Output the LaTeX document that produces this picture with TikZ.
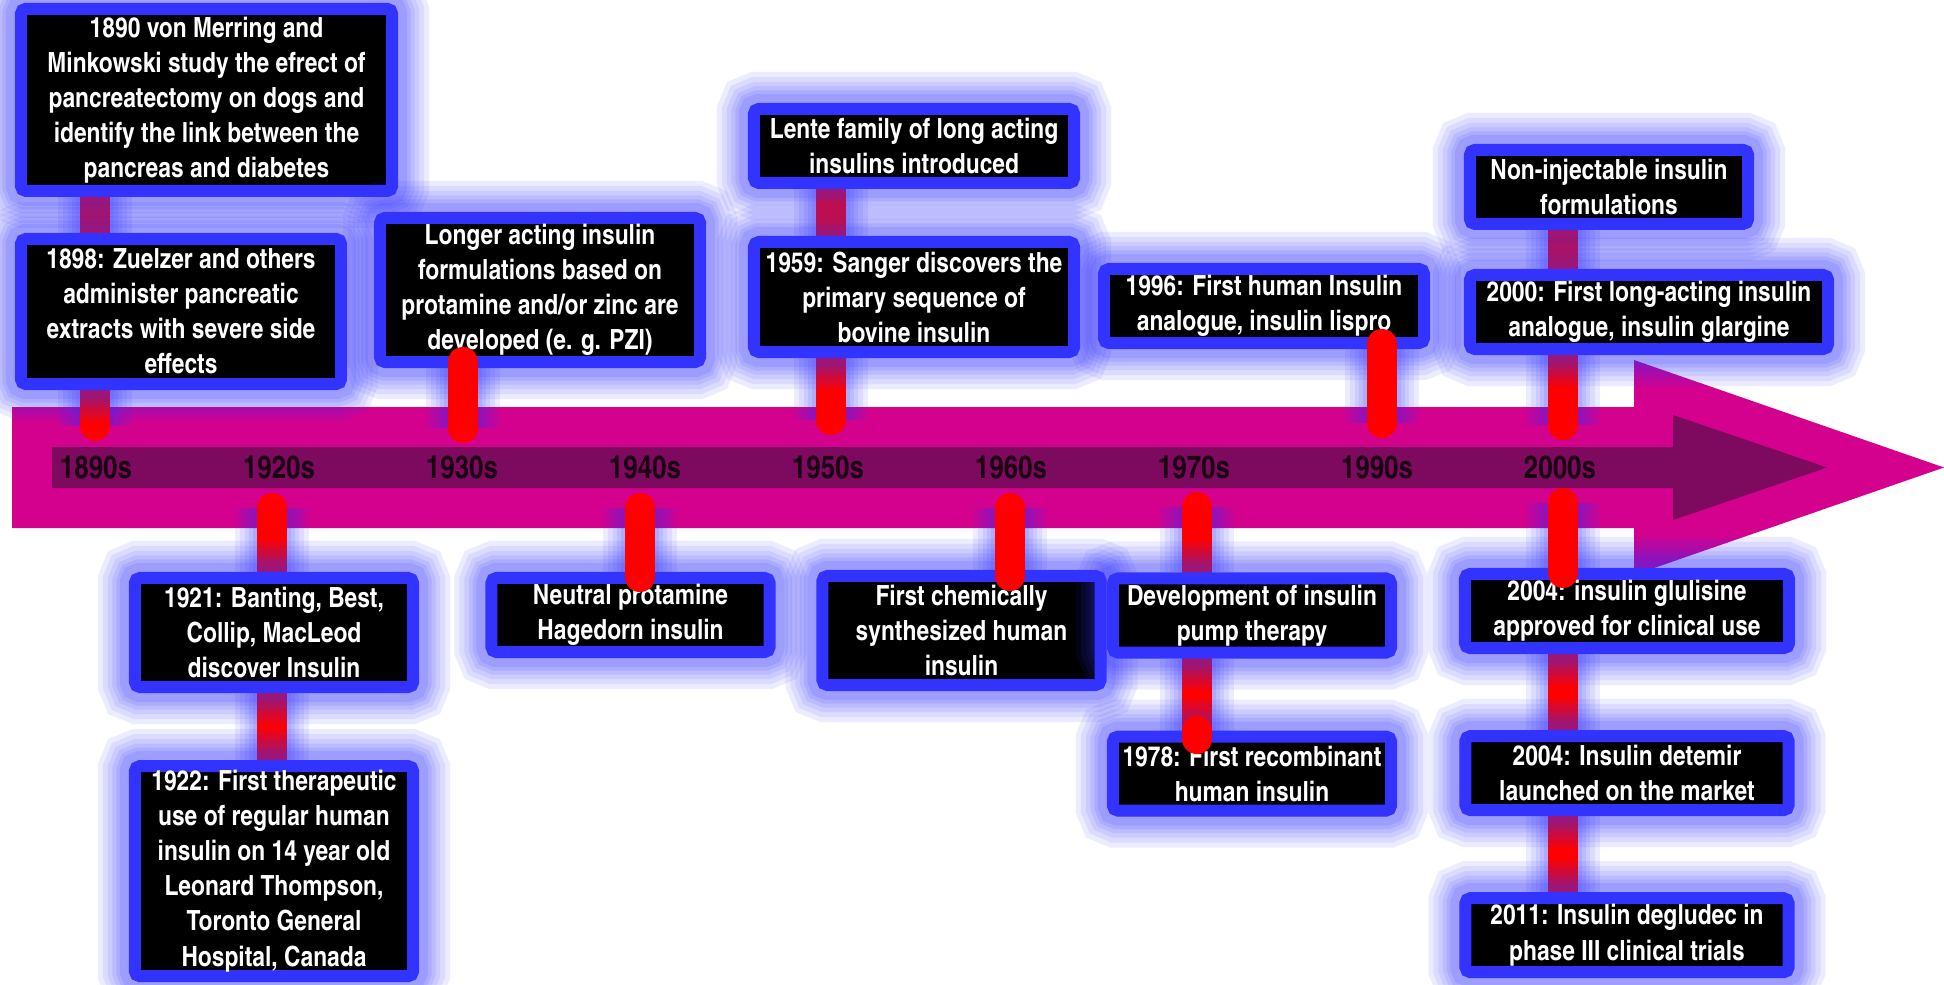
\documentclass[tikz,border=0pt]{standalone}
\usepackage{fontspec}
\usepackage{tikz}
\usetikzlibrary{positioning,backgrounds}
\newfontfamily\cnbold{texgyreheroscn-bold.otf}
\definecolor{insBlue}{HTML}{3333FF}
\definecolor{insMagenta}{HTML}{D4008E}
\definecolor{insPlum}{HTML}{7D0A5E}
\definecolor{insRed}{HTML}{FF0000}
\definecolor{insInk}{HTML}{1A0012}
\newcommand\evtext{\cnbold\fontsize{7.9pt}{9.96pt}\selectfont}
\newcommand\dectext{\cnbold\fontsize{9pt}{10pt}\selectfont}
\tikzset{
  haloed/.style={preaction={draw=insBlue,draw opacity=0.09,line width=0.74cm},
    preaction={draw=insBlue,draw opacity=0.09,line width=0.64cm},
    preaction={draw=insBlue,draw opacity=0.09,line width=0.54cm},
    preaction={draw=insBlue,draw opacity=0.10,line width=0.45cm},
    preaction={draw=insBlue,draw opacity=0.11,line width=0.37cm},
    preaction={draw=insBlue,draw opacity=0.12,line width=0.30cm}},
  eventbox/.style={rectangle,draw=insBlue,line width=0.12cm,fill=black,rounded corners=0.05cm,
    minimum width=2.78cm,minimum height=0.74cm,inner sep=0pt,align=center,text=white,font=\evtext,haloed},
  eventwide/.style={eventbox,minimum width=3.20cm},
  stemtop/.style={draw=insRed,line width=0.3cm,line cap=round},
  stemline/.style={stemtop,haloed},
  decade/.style={inner sep=0pt,text=insInk,font=\dectext}
}

\begin{document}
\begin{tikzpicture}[x=0.01cm,y=-0.01cm]
  \useasboundingbox (0,0) rectangle (1944,984);

  \node[decade] (yr1890) at (96,468) {1890s};
  \node[decade] (yr1920) at (279,468) {1920s};
  \node[decade] (yr1930) at (462,468) {1930s};
  \node[decade] (yr1940) at (645,468) {1940s};
  \node[decade] (yr1950) at (828,468) {1950s};
  \node[decade] (yr1960) at (1011,468) {1960s};
  \node[decade] (yr1970) at (1194,468) {1970s};
  \node[decade] (yr1990) at (1377,468) {1990s};
  \node[decade] (yr2000) at (1560,468) {2000s};

  % stem ends on the bar
  \coordinate (p1890) at (95,426);
  \coordinate (p1920) at (272,508);
  \coordinate (p1930) at (463,428);
  \coordinate (q1930) at (463,362);
  \coordinate (p1940) at (640,508);
  \coordinate (q1940) at (640,577);
  \coordinate (p1950) at (831,420);
  \coordinate (p1960) at (1010,508);
  \coordinate (q1960) at (1010,576);
  \coordinate (p1970) at (1197,507);
  \coordinate (q1970) at (1197,739);
  \coordinate (p1990) at (1382,423);
  \coordinate (q1990) at (1382,344);
  \coordinate (p2000) at (1563,425);
  \coordinate (r2000) at (1563,503);
  \coordinate (q2000) at (1563,573);

  % events
  \node[eventwide, minimum height=1.45cm] (ev1898) at (181,311.5) {1898: Zuelzer and others\\administer pancreatic\\extracts with severe side\\effects};
  \node[eventwide, minimum width=3.71cm, minimum height=1.82cm, above right=0.36cm and 0cm of ev1898.north west] (ev1890) {1890 von Merring and\\Minkowski study the efrect of\\pancreatectomy on dogs and\\identify the link between the\\pancreas and diabetes};
  \node[eventbox, minimum height=1.09cm] (ev1921) at (274,632.5) {1921: Banting, Best,\\Collip, MacLeod\\discover Insulin};
  \node[eventbox, minimum height=2.10cm, below=0.67cm of ev1921] (ev1922) {1922: First therapeutic\\use of regular human\\insulin on 14 year old\\Leonard Thompson,\\Toronto General\\Hospital, Canada};
  \node[eventwide, minimum height=1.44cm] (evLonger) at (540,290) {Longer acting insulin\\formulations based on\\protamine and/or zinc are\\developed (e. g. PZI)};
  \node[eventbox] (evNph) at (630.5,615) {Neutral protamine\\Hagedorn insulin};
  \node[eventwide, minimum height=1.10cm] (ev1959) at (914,297) {1959: Sanger discovers the\\primary sequence of\\bovine insulin};
  \node[eventwide, above=0.47cm of ev1959] (evLente) {Lente family of long acting\\insulins introduced};
  \node[eventbox, minimum height=1.09cm] (evSynth) at (961.5,630.5) {First chemically\\synthesized human\\insulin};
  \node[eventbox] (evPump) at (1252,615.5) {Development of insulin\\pump therapy};
  \node[eventbox, below=0.72cm of evPump] (ev1978) {1978: First recombinant\\human insulin};
  \node[eventwide] (ev1996) at (1264,306) {1996: First human Insulin\\analogue, insulin lispro};
  \node[eventbox, minimum width=3.58cm] (ev2000) at (1649,312) {2000: First long-acting insulin\\analogue, insulin glargine};
  \node[eventbox, above right=0.39cm and 0cm of ev2000.north west] (evOral) {Non-injectable insulin\\formulations};
  \node[eventbox, minimum width=3.24cm] (ev2004a) at (1627,611) {2004: insulin glulisine\\approved for clinical use};
  \node[eventbox, minimum width=3.23cm, below=0.76cm of ev2004a] (ev2004b) {2004: Insulin detemir\\launched on the market};
  \node[eventbox, minimum width=3.23cm, below=0.76cm of ev2004b] (ev2011) {2011: Insulin degludec in\\phase III clinical trials};

  % timeline arrow and the stems under the boxes
  \begin{pgfonlayer}{background}
    \fill[white] (0,0) rectangle (1944,984);
    \fill[insMagenta] (12,407) -- (1634,407) -- (1634,360) -- (1944,467.5) -- (1634,575) -- (1634,528) -- (12,528) -- cycle;
    \fill[insPlum] (52,447) -- (1673,447) -- (1673,415) -- (1827,467.5) -- (1673,520) -- (1673,488) -- (52,488) -- cycle;
    \draw[stemline] (ev1890.south -| p1890) -- (ev1898.north -| p1890);
    \draw[stemline] (ev1898.south -| p1890) -- (p1890);
    \draw[stemline] (p1920) -- (ev1921.north -| p1920);
    \draw[stemline] (ev1921.south -| p1920) -- (ev1922.north -| p1920);
    \draw[stemline] (evLente.south -| p1950) -- (ev1959.north -| p1950);
    \draw[stemline] (ev1959.south -| p1950) -- (p1950);
    \draw[stemline] (p1970) -- (evPump.north -| p1970);
    \draw[stemline] (evPump.south -| p1970) -- (ev1978.north -| p1970);
    \draw[stemline] (evOral.south -| p2000) -- (ev2000.north -| p2000);
    \draw[stemline] (ev2000.south -| p2000) -- (p2000);
    \draw[stemline] (ev2004a.south -| p2000) -- (ev2004b.north -| p2000);
    \draw[stemline] (ev2004b.south -| p2000) -- (ev2011.north -| p2000);
  \end{pgfonlayer}

  % stems over the boxes
  \draw[stemline] (p1930) -- (q1930);
  \draw[stemline] (p1940) -- (q1940);
  \draw[stemline] (p1960) -- (q1960);
  \draw[stemtop] (ev1978.north -| q1970) -- (q1970);
  \draw[stemline] (p1990) -- (q1990);
  \draw[stemline] (r2000) -- (q2000);
\end{tikzpicture}
\end{document}
